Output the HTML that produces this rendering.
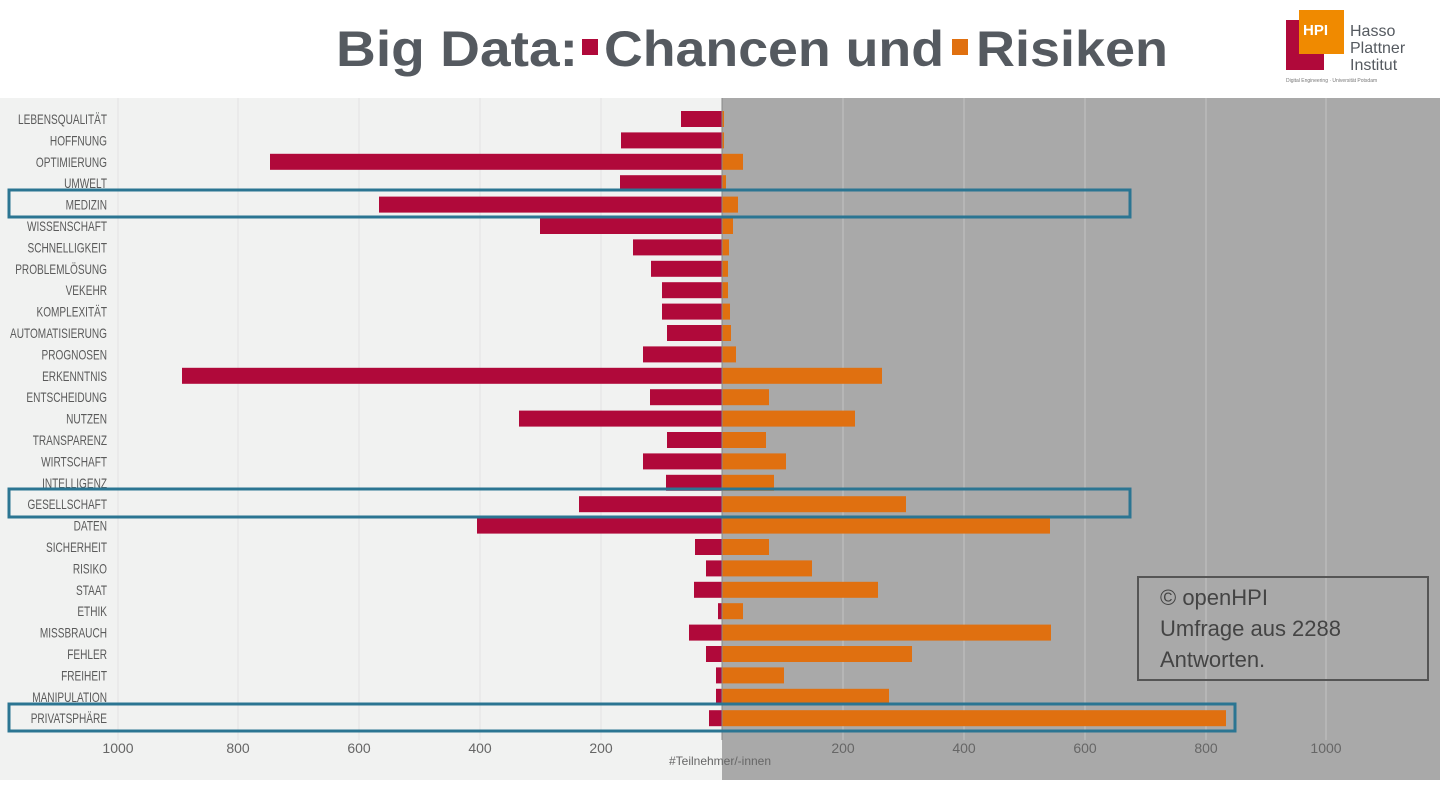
<!DOCTYPE html>
<html><head><meta charset="utf-8"><style>
body{margin:0;width:1440px;height:780px;overflow:hidden;background:#fff;font-family:"Liberation Sans",sans-serif}
</style></head><body>
<svg width="1440" height="780" xmlns="http://www.w3.org/2000/svg">
<rect x="0" y="98" width="722" height="682" fill="#f1f2f1"/>
<rect x="722" y="98" width="718" height="682" fill="#a9a9a9"/>
<g stroke="#c4c4c4" stroke-width="1">
<line x1="843" y1="98" x2="843" y2="740"/><line x1="964" y1="98" x2="964" y2="740"/><line x1="1085" y1="98" x2="1085" y2="740"/><line x1="1206" y1="98" x2="1206" y2="740"/><line x1="1326" y1="98" x2="1326" y2="740"/>
</g>
<g stroke="#e2e2e2" stroke-width="1">
<line x1="601" y1="98" x2="601" y2="740"/><line x1="480" y1="98" x2="480" y2="740"/><line x1="359" y1="98" x2="359" y2="740"/><line x1="238" y1="98" x2="238" y2="740"/><line x1="118" y1="98" x2="118" y2="740"/>
</g>
<g id="bars"></g>
<line x1="722" y1="98" x2="722" y2="740" stroke="#888" stroke-width="1"/>
<g id="labels" font-size="14" fill="#5a5a5a" text-anchor="end"></g>
<g fill="none" stroke="#2b7592" stroke-width="3">
<rect x="9" y="190" width="1121" height="27"/>
<rect x="9" y="489" width="1121" height="28"/>
<rect x="9" y="704" width="1226" height="27"/>
</g>
<g font-size="14" fill="#666" text-anchor="middle">
<text x="118" y="753">1000</text><text x="238" y="753">800</text><text x="359" y="753">600</text><text x="480" y="753">400</text><text x="601" y="753">200</text>
<text x="843" y="753">200</text><text x="964" y="753">400</text><text x="1085" y="753">600</text><text x="1206" y="753">800</text><text x="1326" y="753">1000</text>
<text x="720" y="765" font-size="12">#Teilnehmer/-innen</text>
</g>
<rect x="1138" y="577" width="290" height="103" fill="none" stroke="#555" stroke-width="2"/>
<g font-size="22" fill="#444"><text x="1160" y="605">© openHPI</text><text x="1160" y="636">Umfrage aus 2288</text><text x="1160" y="667">Antworten.</text></g>
<g font-size="50" font-weight="bold" fill="#555a60">
<text x="336" y="66" textLength="242" lengthAdjust="spacingAndGlyphs">Big Data:</text>
<rect x="582" y="39" width="16" height="16" fill="#b0093a"/>
<text x="604" y="66" textLength="340" lengthAdjust="spacingAndGlyphs">Chancen und</text>
<rect x="952" y="39" width="16" height="16" fill="#e07010"/>
<text x="976" y="66" textLength="192" lengthAdjust="spacingAndGlyphs">Risiken</text>
</g>
<rect x="1286" y="20" width="38" height="50" fill="#b0093a"/>
<rect x="1299" y="10" width="45" height="44" fill="#f08a00"/>
<text x="1303" y="35" font-size="15" font-weight="bold" fill="#fff">HPI</text>
<g font-size="16" fill="#555a60"><text x="1350" y="36">Hasso</text><text x="1350" y="53">Plattner</text><text x="1350" y="70">Institut</text></g>
<text x="1286" y="82" font-size="5" fill="#777">Digital Engineering · Universität Potsdam</text>
</svg>
<script>
var d=[["LEBENSQUALITÄT",681,724],["HOFFNUNG",621,724],["OPTIMIERUNG",270,743],["UMWELT",620,726],["MEDIZIN",379,738],["WISSENSCHAFT",540,733],["SCHNELLIGKEIT",633,729],["PROBLEMLÖSUNG",651,728],["VEKEHR",662,728],["KOMPLEXITÄT",662,730],["AUTOMATISIERUNG",667,731],["PROGNOSEN",643,736],["ERKENNTNIS",182,882],["ENTSCHEIDUNG",650,769],["NUTZEN",519,855],["TRANSPARENZ",667,766],["WIRTSCHAFT",643,786],["INTELLIGENZ",666,774],["GESELLSCHAFT",579,906],["DATEN",477,1050],["SICHERHEIT",695,769],["RISIKO",706,812],["STAAT",694,878],["ETHIK",718,743],["MISSBRAUCH",689,1051],["FEHLER",706,912],["FREIHEIT",716,784],["MANIPULATION",716,889],["PRIVATSPHÄRE",709,1226]];
var ns="http://www.w3.org/2000/svg",b=document.getElementById("bars"),l=document.getElementById("labels");
d.forEach(function(r,i){var y=119+i*21.4;
var a=document.createElementNS(ns,"rect");a.setAttribute("x",r[1]);a.setAttribute("y",y-8);a.setAttribute("width",722-r[1]);a.setAttribute("height",16);a.setAttribute("fill","#b0093a");b.appendChild(a);
var c=document.createElementNS(ns,"rect");c.setAttribute("x",722);c.setAttribute("y",y-8);c.setAttribute("width",r[2]-722);c.setAttribute("height",16);c.setAttribute("fill","#e07010");b.appendChild(c);
var t=document.createElementNS(ns,"text");t.setAttribute("transform","translate(107,"+(y+5)+") scale(0.72,1)");t.textContent=r[0];l.appendChild(t);});
</script>
</body></html>
